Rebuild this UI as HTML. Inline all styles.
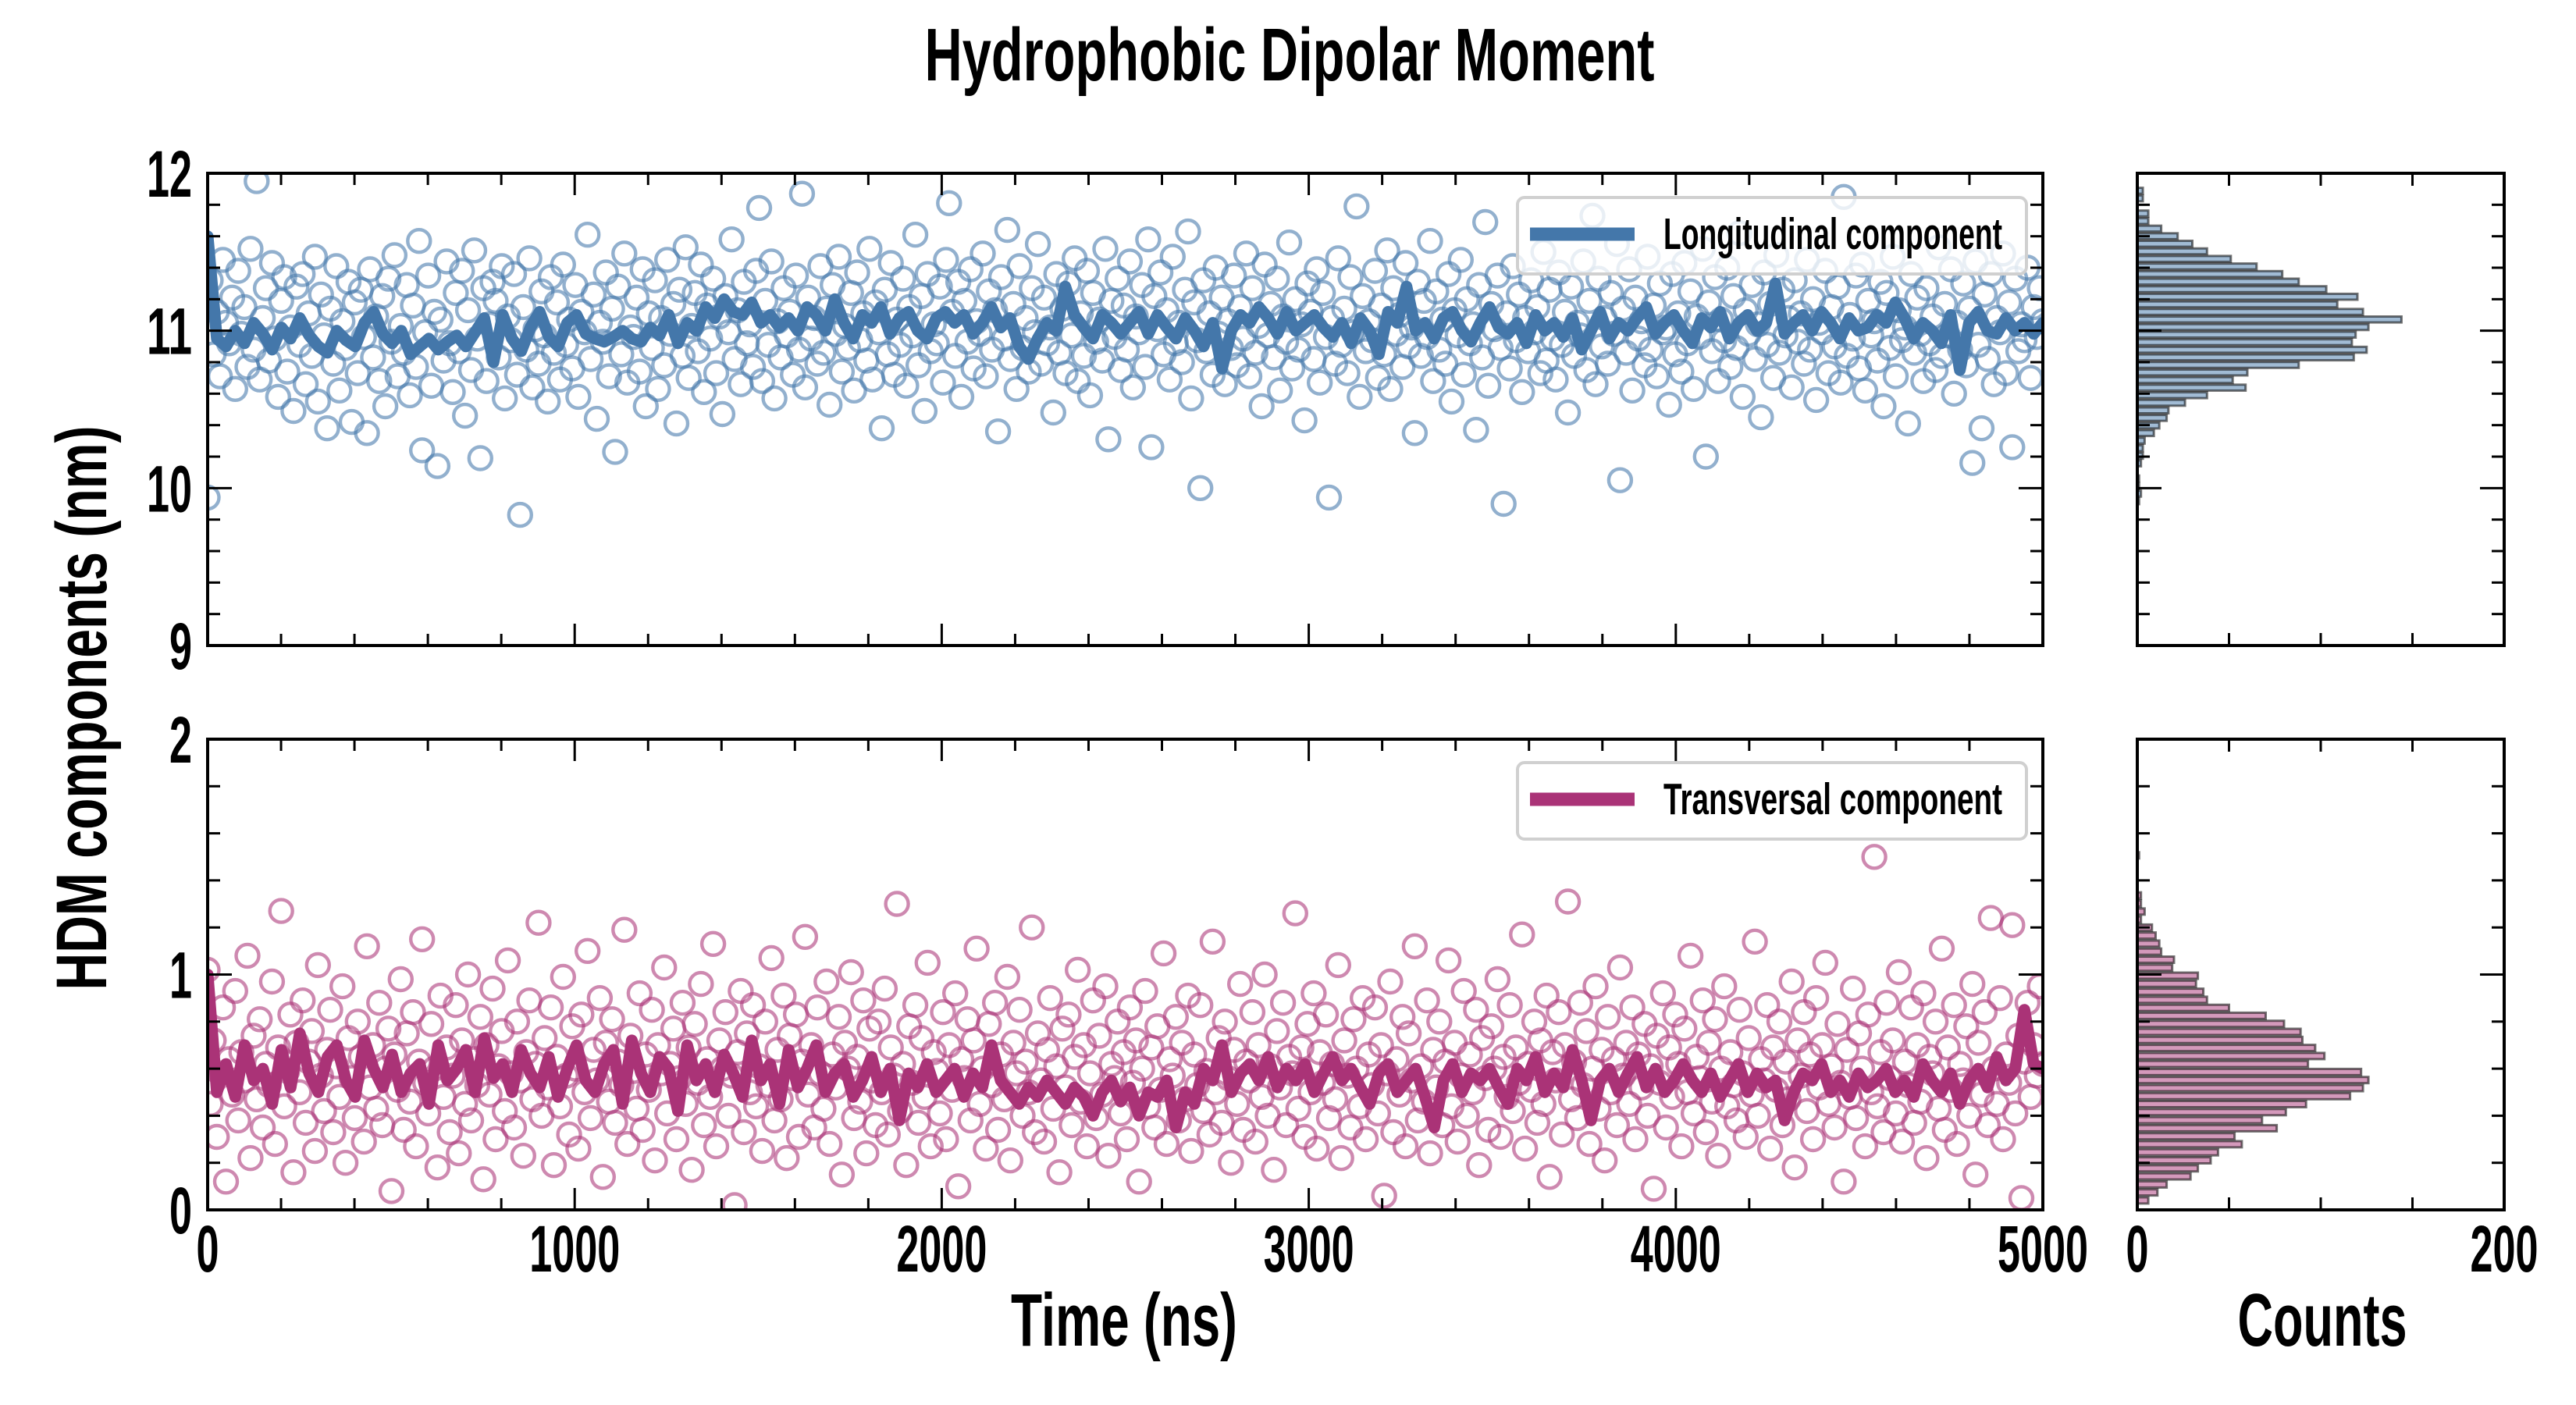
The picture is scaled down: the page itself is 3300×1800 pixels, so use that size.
<!DOCTYPE html>
<html><head><meta charset="utf-8"><title>Hydrophobic Dipolar Moment</title>
<style>
html,body{margin:0;padding:0;background:#fff;}
svg{display:block;}
text{font-family:"Liberation Sans Narrow","Liberation Sans",sans-serif;font-weight:bold;fill:#000;}
</style></head>
<body>
<svg id="chart" width="3300" height="1800" viewBox="0 0 3300 1800" xmlns="http://www.w3.org/2000/svg">
<rect x="0" y="0" width="3300" height="1800" fill="#fff"/>
<text x="1652" y="103" font-size="96" text-anchor="middle" textLength="935" lengthAdjust="spacingAndGlyphs">Hydrophobic Dipolar Moment</text>
<text transform="translate(136,907) rotate(-90)" font-size="92" text-anchor="middle" textLength="723" lengthAdjust="spacingAndGlyphs">HDM components (nm)</text>
<text x="1440" y="1724" font-size="96" text-anchor="middle" textLength="290" lengthAdjust="spacingAndGlyphs">Time (ns)</text>
<text x="2975" y="1724" font-size="96" text-anchor="middle" textLength="217" lengthAdjust="spacingAndGlyphs">Counts</text>
<g id="layer"></g>
</svg>
<script>
// ---------------- data ----------------
const timeRange = [0, 5000];
const longScatter = [
9.94,11.32,10.85,11.12,10.71,11.45,11.05,10.92,11.21,10.63,11.38,10.98,11.15,10.77,11.52,10.88,11.95,10.69,11.08,11.27,
10.81,11.43,10.95,10.58,11.19,11.34,10.74,11.02,10.49,11.28,10.91,11.36,10.66,11.11,10.84,11.47,10.55,11.23,10.97,10.38,
11.14,10.79,11.41,10.62,11.06,10.89,11.31,10.42,11.18,10.73,11.26,10.96,10.35,11.39,10.83,11.09,10.68,11.22,10.52,11.33,
10.93,11.48,10.71,11.03,10.86,11.29,10.59,11.16,10.77,11.57,10.24,10.99,11.35,10.65,11.12,10.14,11.07,10.81,11.44,10.92,
10.61,11.24,10.87,11.38,10.46,11.13,10.75,11.51,10.95,10.19,11.27,10.68,11.04,11.31,11.19,10.83,11.41,10.57,11.09,10.94,
11.36,10.72,9.83,11.15,10.88,11.46,10.64,11.01,10.79,11.25,10.97,10.55,11.34,10.86,11.18,10.69,11.42,10.91,11.07,10.76,
11.29,10.58,11.12,10.99,11.61,10.82,11.23,10.44,11.05,10.93,11.37,10.71,11.14,10.23,11.28,10.85,11.49,10.67,11.02,10.96,
11.21,10.74,11.39,10.52,11.11,10.89,11.32,10.63,11.08,10.78,11.45,10.98,11.17,10.41,11.26,10.84,11.53,10.7,11.03,11.24,
10.87,11.42,10.61,11.16,10.95,11.33,10.73,11.09,10.47,11.22,10.99,11.58,10.82,11.13,10.66,11.31,10.92,11.04,10.77,11.38,
11.78,10.68,11.19,10.91,11.44,10.57,11.06,10.83,11.27,10.97,11.12,10.72,11.35,10.88,11.87,10.64,11.21,10.95,11.08,10.79,
11.41,10.86,11.14,10.53,11.29,10.98,11.47,10.74,11.03,10.89,11.24,10.62,11.37,10.94,11.11,10.81,11.52,10.69,11.18,10.99,
10.38,11.26,10.85,11.43,10.72,11.07,10.91,11.33,10.65,11.15,10.97,11.61,10.78,11.22,10.49,11.36,10.87,11.04,10.92,11.28,
10.67,11.45,11.81,11.12,10.84,11.31,10.58,11.19,10.93,11.39,10.76,11.06,10.98,11.49,10.71,11.25,10.88,11.13,10.36,11.34,
10.95,11.64,10.82,11.17,10.63,11.41,10.89,11.08,10.74,11.27,10.99,11.55,10.79,11.21,10.92,11.02,10.48,11.36,10.86,11.14,
10.73,11.3,10.97,11.46,10.68,11.11,10.84,11.38,10.59,11.24,10.93,11.07,10.81,11.52,10.31,11.19,10.96,11.33,10.75,11.16,
10.88,11.44,10.64,11.09,10.99,11.29,10.77,11.58,10.26,11.22,11.01,11.37,10.85,11.13,10.69,11.47,10.92,11.05,10.8,11.26,
11.63,10.57,11.18,10.94,10.0,11.32,10.87,11.11,10.72,11.4,10.98,11.21,10.66,11.06,10.89,11.35,10.78,11.15,10.95,11.49,
10.71,11.27,10.86,11.03,10.52,11.42,10.97,11.17,10.83,11.33,10.62,11.09,10.93,11.56,10.76,11.2,10.88,11.04,10.43,11.3,
11.12,10.82,11.39,10.67,11.24,10.96,9.94,11.08,10.79,11.46,10.91,11.14,10.73,11.34,10.99,11.79,10.58,11.22,10.87,11.06,
10.94,11.38,10.7,11.16,10.85,11.51,10.63,11.27,10.98,11.1,10.77,11.43,10.9,11.02,10.35,11.31,10.84,11.19,10.96,11.57,
10.68,11.25,10.88,11.07,10.79,11.36,10.55,11.13,10.97,11.45,10.72,11.2,10.92,11.04,10.37,11.29,10.83,11.69,10.65,11.17,
11.01,11.35,10.89,9.9,11.11,10.76,11.41,10.94,11.23,10.61,11.08,10.87,11.32,10.99,11.15,10.73,11.5,10.81,11.26,10.95,
10.69,11.37,10.91,11.12,10.48,11.28,10.84,11.05,10.97,11.44,10.75,11.19,11.73,10.66,11.33,10.9,11.08,10.79,11.24,10.98,
11.55,10.05,11.14,10.86,11.39,10.62,11.21,10.95,11.06,10.78,11.47,10.88,11.16,10.71,11.3,10.99,11.02,10.53,11.36,10.85,
11.11,10.74,11.43,10.92,11.25,10.63,11.09,10.96,11.52,10.2,11.18,10.87,11.34,10.68,11.07,10.94,11.4,10.77,11.22,10.89,
11.62,10.58,11.13,10.98,11.29,10.82,11.04,10.45,11.37,10.91,11.17,10.7,11.48,10.86,11.26,10.97,11.08,10.64,11.32,10.93,
11.11,10.79,11.45,10.88,11.2,10.56,11.05,10.99,11.38,10.73,11.15,10.9,11.28,10.67,11.85,10.84,11.1,10.95,11.35,10.76,
11.42,10.62,11.19,10.97,11.06,10.81,11.31,10.52,11.24,10.89,11.47,10.71,11.13,10.94,11.02,10.41,11.36,10.86,11.21,10.98,
10.68,11.27,10.92,11.09,10.75,11.53,10.84,11.17,10.97,11.39,10.6,11.05,10.88,11.3,10.78,11.14,10.16,11.44,10.91,10.38,
11.23,10.82,11.36,10.66,11.08,10.99,11.49,10.73,11.18,10.26,11.33,10.87,11.04,10.94,11.4,10.7,11.15,10.96,11.27,11.06
];
const transScatter = [
1.02,0.45,0.72,0.31,0.58,0.86,0.12,0.64,0.49,0.93,0.38,0.67,0.55,1.08,0.22,0.74,0.47,0.81,0.35,0.62,
0.53,0.97,0.28,0.69,1.27,0.44,0.59,0.83,0.16,0.71,0.5,0.89,0.37,0.63,0.76,0.25,1.04,0.57,0.42,0.68,
0.85,0.33,0.61,0.48,0.95,0.2,0.73,0.56,0.39,0.8,0.65,0.29,1.12,0.52,0.7,0.43,0.88,0.36,0.6,0.77,
0.08,0.66,0.51,0.98,0.34,0.75,0.46,0.84,0.27,0.63,1.15,0.54,0.41,0.79,0.6,0.18,0.91,0.48,0.69,0.33,
0.57,0.87,0.24,0.72,0.45,1.0,0.38,0.64,0.53,0.82,0.13,0.7,0.49,0.94,0.3,0.61,0.76,0.42,1.06,0.58,
0.35,0.8,0.55,0.23,0.67,0.89,0.47,0.62,1.22,0.4,0.73,0.52,0.86,0.19,0.65,0.44,0.99,0.57,0.32,0.78,
0.6,0.26,0.83,0.5,1.1,0.39,0.68,0.55,0.9,0.14,0.71,0.46,0.81,0.37,0.63,0.53,1.19,0.28,0.74,0.59,
0.43,0.92,0.34,0.66,0.51,0.85,0.21,0.7,0.58,1.03,0.41,0.62,0.77,0.3,0.56,0.88,0.45,0.69,0.17,0.79,
0.54,0.96,0.36,0.64,0.48,1.13,0.27,0.72,0.6,0.84,0.4,0.57,0.02,0.67,0.93,0.33,0.75,0.5,0.87,0.44,
0.61,0.25,0.8,0.53,1.07,0.38,0.68,0.47,0.91,0.22,0.74,0.56,0.83,0.31,0.63,1.16,0.49,0.7,0.35,0.86,
0.58,0.43,0.97,0.28,0.66,0.52,0.82,0.15,0.71,0.6,1.01,0.39,0.65,0.46,0.89,0.24,0.77,0.55,0.36,0.8,
0.5,0.94,0.32,0.69,0.57,1.3,0.42,0.62,0.19,0.78,0.54,0.87,0.37,0.73,0.48,1.05,0.27,0.67,0.59,0.41,
0.84,0.3,0.7,0.51,0.92,0.1,0.64,0.56,0.81,0.38,0.72,1.11,0.45,0.6,0.26,0.79,0.53,0.88,0.34,0.66,
0.47,0.99,0.21,0.71,0.58,0.85,0.4,0.63,0.5,1.2,0.33,0.75,0.55,0.29,0.68,0.9,0.43,0.61,0.16,0.77,
0.52,0.83,0.36,0.65,1.02,0.46,0.7,0.27,0.58,0.89,0.39,0.74,0.49,0.95,0.23,0.62,0.56,0.8,0.41,0.67,
0.3,0.86,0.54,0.72,0.12,0.6,0.93,0.44,0.69,0.35,0.78,0.51,1.09,0.28,0.64,0.57,0.82,0.38,0.71,0.47,
0.91,0.25,0.66,0.53,0.87,0.42,0.59,0.32,1.14,0.5,0.73,0.37,0.8,0.56,0.2,0.68,0.45,0.96,0.34,0.63,
0.55,0.84,0.29,0.7,0.48,1.0,0.4,0.61,0.17,0.76,0.52,0.88,0.36,0.65,0.58,1.26,0.43,0.69,0.31,0.79,
0.5,0.92,0.26,0.67,0.54,0.83,0.39,0.62,0.47,1.04,0.22,0.72,0.57,0.35,0.81,0.6,0.44,0.9,0.3,0.66,
0.53,0.86,0.41,0.7,0.06,0.58,0.97,0.33,0.64,0.49,0.82,0.27,0.75,0.55,1.12,0.38,0.61,0.46,0.89,0.24,
0.68,0.52,0.8,0.36,0.63,1.06,0.44,0.71,0.29,0.57,0.93,0.4,0.66,0.5,0.85,0.19,0.73,0.56,0.34,0.78,
0.6,0.98,0.31,0.65,0.48,0.87,0.42,0.69,0.54,1.17,0.26,0.62,0.51,0.8,0.37,0.72,0.45,0.91,0.14,0.67,
0.55,0.84,0.32,0.7,1.31,0.47,0.63,0.39,0.88,0.53,0.76,0.28,0.6,0.95,0.43,0.68,0.21,0.82,0.5,0.64,
0.36,1.03,0.57,0.71,0.45,0.86,0.3,0.66,0.52,0.79,0.4,0.61,0.09,0.74,0.54,0.92,0.35,0.69,0.48,0.83,
0.62,0.27,0.77,0.5,1.08,0.41,0.65,0.56,0.89,0.33,0.71,0.46,0.81,0.23,0.6,0.95,0.44,0.67,0.53,0.38,
0.85,0.58,0.31,0.73,0.49,1.14,0.4,0.64,0.55,0.87,0.26,0.69,0.51,0.8,0.36,0.63,0.47,0.97,0.18,0.72,
0.57,0.84,0.42,0.66,0.3,0.9,0.52,0.7,1.05,0.45,0.61,0.35,0.79,0.54,0.12,0.68,0.48,0.94,0.39,0.75,
0.6,0.27,0.83,0.5,1.5,0.44,0.67,0.33,0.88,0.56,0.72,0.41,1.01,0.29,0.63,0.53,0.86,0.37,0.7,0.46,
0.92,0.22,0.65,0.58,0.8,0.43,1.11,0.34,0.69,0.51,0.87,0.28,0.62,0.55,0.78,0.4,0.96,0.15,0.71,0.49,
0.84,0.36,1.24,0.6,0.45,0.9,0.3,0.66,0.54,1.21,0.41,0.74,0.05,0.63,0.88,0.48,0.7,0.57,0.95,0.62
];
const longMean = [
11.6,10.95,10.9,11.0,10.92,11.05,10.98,10.88,11.02,10.95,
11.08,10.97,10.9,10.86,11.0,10.94,10.9,11.05,11.12,10.98,
10.92,11.0,10.85,10.9,10.95,10.88,10.93,10.97,10.9,10.99,
11.08,10.8,11.1,10.95,10.87,11.02,11.12,10.96,10.9,11.05,
11.1,10.98,10.95,10.93,10.96,11.0,10.95,10.93,11.02,10.97,
11.1,10.92,11.05,11.0,11.15,11.08,11.2,11.12,11.1,11.18,
11.05,11.1,11.02,11.08,11.0,11.15,11.1,11.0,11.2,11.05,
10.95,11.1,11.05,11.15,10.98,11.08,11.12,11.0,10.95,11.08,
11.12,11.05,11.1,10.98,11.05,11.15,11.02,11.08,10.9,10.82,
10.95,11.05,11.0,11.28,11.1,11.02,10.95,11.1,11.05,10.98,
11.05,11.12,10.98,11.1,11.02,10.95,11.08,11.0,10.9,11.05,
10.76,11.0,11.1,11.05,11.15,11.08,10.98,11.12,11.0,11.05,
11.1,11.02,10.96,11.05,10.92,11.08,11.0,10.85,11.12,11.05,
11.28,11.0,11.05,10.95,11.08,11.12,11.0,10.93,11.05,11.15,
11.02,10.98,11.05,10.92,11.1,11.0,11.05,10.96,11.08,10.88,
11.0,11.12,10.95,11.05,11.0,11.08,11.15,10.98,11.05,11.1,
11.0,10.92,11.08,11.02,11.12,10.95,11.05,11.1,11.0,11.05,
11.3,10.98,11.05,11.1,11.0,11.12,11.05,10.95,11.08,11.0,
11.02,11.1,11.05,11.18,11.08,10.95,11.05,11.0,10.92,11.1,
10.75,11.05,11.12,11.0,10.98,11.08,11.0,11.05,10.98,11.05
];
const transMean = [
1.0,0.5,0.62,0.48,0.7,0.55,0.6,0.45,0.68,0.52,
0.75,0.58,0.5,0.65,0.7,0.55,0.48,0.72,0.6,0.52,
0.66,0.5,0.58,0.62,0.45,0.7,0.55,0.6,0.68,0.5,
0.73,0.56,0.62,0.5,0.68,0.58,0.52,0.65,0.48,0.6,
0.7,0.55,0.5,0.62,0.68,0.45,0.72,0.58,0.5,0.65,
0.6,0.42,0.7,0.55,0.62,0.5,0.66,0.58,0.48,0.72,
0.55,0.62,0.45,0.68,0.52,0.6,0.7,0.5,0.58,0.62,
0.48,0.55,0.65,0.5,0.6,0.38,0.58,0.52,0.62,0.5,
0.55,0.6,0.48,0.58,0.52,0.7,0.55,0.5,0.45,0.52,
0.48,0.55,0.5,0.45,0.52,0.48,0.4,0.5,0.55,0.46,
0.52,0.4,0.5,0.48,0.55,0.35,0.5,0.45,0.6,0.55,
0.7,0.5,0.58,0.62,0.55,0.65,0.52,0.6,0.55,0.62,
0.5,0.58,0.65,0.55,0.6,0.52,0.45,0.58,0.62,0.5,
0.55,0.6,0.48,0.35,0.55,0.62,0.5,0.58,0.55,0.6,
0.52,0.45,0.6,0.55,0.65,0.5,0.58,0.52,0.68,0.55,
0.38,0.55,0.6,0.5,0.58,0.65,0.52,0.6,0.5,0.55,
0.62,0.55,0.5,0.58,0.48,0.55,0.62,0.5,0.58,0.52,
0.55,0.38,0.5,0.58,0.55,0.62,0.5,0.55,0.48,0.58,
0.52,0.55,0.6,0.5,0.55,0.48,0.62,0.55,0.5,0.58,
0.45,0.55,0.6,0.52,0.65,0.55,0.6,0.85,0.62,0.6
];
const longHistTop = 11.913, longHistWidth = 0.0481;
const longHistCounts = [3,3,0,6,6,13,22,30,38,51,65,79,88,103,120,109,123,144,126,119,117,125,118,88,60,52,59,38,26,17,16,12,9,4,3,3,2,0,1,1,2,1];
const transHistStart = 0.023, transHistWidth = 0.0341;
const transHistCounts = [6,11,16,29,33,40,44,57,53,76,68,81,92,116,123,126,122,93,102,97,90,89,80,70,50,38,36,32,33,19,20,13,12,10,8,2,4,2,2,0,0,0,0,1];
const xTickLabels = ["0","1000","2000","3000","4000","5000"];
const longTickLabels = ["9","10","11","12"];
const transTickLabels = ["0","1","2"];
const countTickLabels = ["0","200"];
const legendLabels = ["Longitudinal component","Transversal component"];

// ---------------- layout ----------------
const NS = "http://www.w3.org/2000/svg";
const layer = document.getElementById('layer');
const X0 = 266, X1 = 2617, H0 = 2738, H1 = 3208;
const topP = {y0: 222, y1: 827, min: 9, max: 12};
const botP = {y0: 947, y1: 1550, min: 0, max: 2};
const BLUE = "#4477AA", MAG = "#AA3377";
function xs(t){ return X0 + (t - timeRange[0]) / (timeRange[1] - timeRange[0]) * (X1 - X0); }
function ys(p, v){ return p.y1 - (v - p.min) / (p.max - p.min) * (p.y1 - p.y0); }
function hx(c){ return H0 + c / 200 * (H1 - H0); }
function mk(tag, attrs, parent){
  const e = document.createElementNS(NS, tag);
  for (const k in attrs) e.setAttribute(k, attrs[k]);
  (parent || layer).appendChild(e);
  return e;
}
function scatter(parent, p, vals, color, name){
  const g = mk('g', {fill: 'none', stroke: color, 'stroke-opacity': 0.58, 'stroke-width': 4.4}, parent);
  
  
  const n = vals.length;
  vals.forEach((v, i) => {
    const t = timeRange[0] + i * (timeRange[1] - timeRange[0]) / (n - 1);
    const c = mk('circle', {cx: xs(t).toFixed(1), cy: ys(p, v).toFixed(1), r: 14.5}, g);
    
    
  });
}
function meanLine(parent, p, vals, color, name){
  const n = vals.length;
  const d = vals.map((v, i) => {
    const t = timeRange[0] + i * (timeRange[1] - timeRange[0]) / (n - 1);
    return (i ? 'L' : 'M') + xs(t).toFixed(1) + ',' + ys(p, v).toFixed(1);
  }).join('');
  const l = mk('path', {d: d, fill: 'none', stroke: color, 'stroke-width': 15, 'stroke-linejoin': 'round', 'stroke-linecap': 'round'}, parent);
  
  
}
function clipFor(id, p, parent){
  const cp = mk('clipPath', {id: id}, parent);
  mk('rect', {x: X0, y: p.y0, width: X1 - X0, height: p.y1 - p.y0}, cp);
}
function frame(x0, x1, p, name){
  const r = mk('rect', {x: x0, y: p.y0, width: x1 - x0, height: p.y1 - p.y0, fill: 'none', stroke: '#000', 'stroke-width': 4});
  
  
}
function tick(x1, y1, x2, y2){
  const t = mk('line', {x1: x1, y1: y1, x2: x2, y2: y2, stroke: '#000', 'stroke-width': 3});
  
  
}
function yTicks(x0, x1, p){
  const steps = Math.round((p.max - p.min) / 0.2);
  for (let k = 0; k <= steps; k++){
    const v = p.min + k * 0.2;
    const major = Math.abs(v - Math.round(v)) < 1e-6;
    const L = major ? 31 : 16;
    const y = ys(p, v);
    tick(x0, y, x0 + L, y);
    tick(x1, y, x1 - L, y);
  }
}
function xTicks(p){
  for (let t = 0; t <= 5000; t += 200){
    const L = t % 1000 === 0 ? 28 : 15;
    tick(xs(t), p.y1, xs(t), p.y1 - L);
    tick(xs(t), p.y0, xs(t), p.y0 + L);
  }
}
function hTicks(p){
  for (let c = 50; c < 200; c += 50){
    tick(hx(c), p.y1, hx(c), p.y1 - 16);
    tick(hx(c), p.y0, hx(c), p.y0 + 16);
  }
}
function label(x, y, s, anchor, name){
  const t = mk('text', {x: x, y: y, 'font-size': 84, 'text-anchor': anchor, textLength: 29 * s.length, lengthAdjust: 'spacingAndGlyphs'});
  t.textContent = s;
  
  
}
function legend(y, color, text, name){
  const g = mk('g', {});
  
  
  mk('rect', {x: 1944, y: y, width: 652, height: 98, rx: 9, fill: '#fff', 'fill-opacity': 0.8, stroke: '#d0d0d0', 'stroke-width': 4}, g);
  const sw = mk('line', {x1: 1960, y1: y + 47, x2: 2094, y2: y + 47, stroke: color, 'stroke-width': 17}, g);
  
  
  const t = mk('text', {x: 2131, y: y + 66, 'font-size': 57, textLength: 434, lengthAdjust: 'spacingAndGlyphs'}, g);
  t.textContent = text;
  
  
}
function hist(p, start, width, counts, fill, name, topDown){
  const g = mk('g', {fill: fill, stroke: '#000', 'stroke-opacity': 0.55, 'stroke-width': 3});
  
  
  counts.forEach((c, i) => {
    if (!c) return;
    const lo = topDown ? start - (i + 1) * width : start + i * width;
    const hi = lo + width;
    const yTop = ys(p, hi), yBot = ys(p, lo);
    const h = (yBot - yTop) * 0.78;
    const r = mk('rect', {x: H0, y: (yTop + (yBot - yTop) * 0.11).toFixed(1), width: (hx(c) - H0).toFixed(1), height: h.toFixed(1)}, g);
    
    
  });
}

// ---------------- draw ----------------
const defs = mk('defs', {});
clipFor('clipTop', topP, defs); clipFor('clipBot', botP, defs);

const gTop = mk('g', {'clip-path': 'url(#clipTop)'});


const gBot = mk('g', {'clip-path': 'url(#clipBot)'});



scatter(gTop, topP, longScatter, BLUE, 'longitudinal');
meanLine(gTop, topP, longMean, BLUE, 'longitudinal');
scatter(gBot, botP, transScatter, MAG, 'transversal');
meanLine(gBot, botP, transMean, MAG, 'transversal');

hist(topP, longHistTop, longHistWidth, longHistCounts, '#a1bbd4', 'longitudinal', true);
hist(botP, transHistStart, transHistWidth, transHistCounts, '#d499bb', 'transversal', false);

[topP, botP].forEach(p => { yTicks(X0, X1, p); xTicks(p); yTicks(H0, H1, p); hTicks(p); });
frame(X0, X1, topP, 'longitudinal-axes');
frame(X0, X1, botP, 'transversal-axes');
frame(H0, H1, topP, 'longitudinal-hist-axes');
frame(H0, H1, botP, 'transversal-hist-axes');

legend(253, BLUE, legendLabels[0], 'legend-longitudinal');
legend(977, MAG, legendLabels[1], 'legend-transversal');

longTickLabels.forEach(s => label(246, ys(topP, +s) + 30, s, 'end', 'y-tick-label'));
transTickLabels.forEach(s => label(246, ys(botP, +s) + 30, s, 'end', 'y-tick-label'));
xTickLabels.forEach(s => label(xs(+s), 1629, s, 'middle', 'x-tick-label'));
countTickLabels.forEach(s => label(hx(+s), 1629, s, 'middle', 'count-tick-label'));
</script>
</body></html>
